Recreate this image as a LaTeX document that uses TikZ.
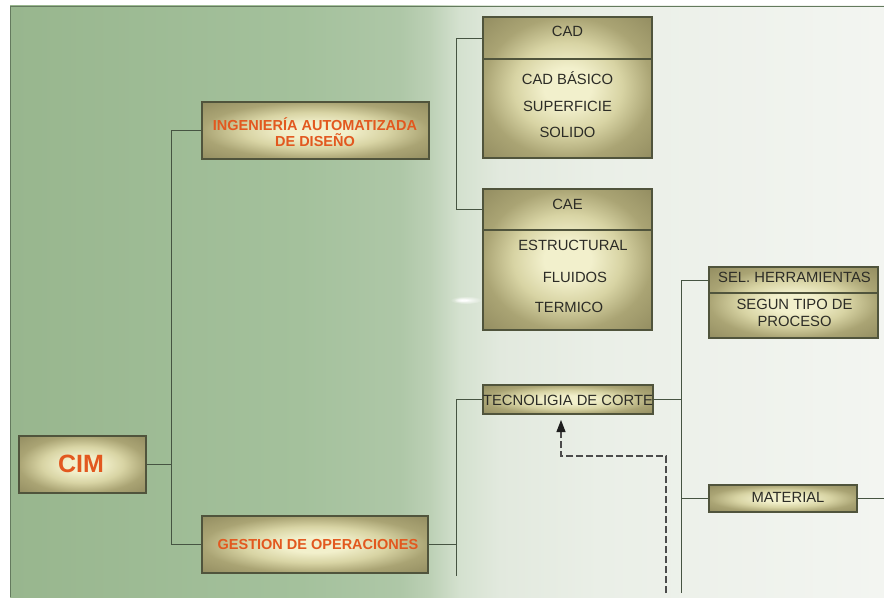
\documentclass[tikz,border=0pt]{standalone}
\usepackage{fontspec}
\setmainfont{Liberation Sans}
\usetikzlibrary{arrows.meta,fadings}

% palette
\definecolor{bgA}{RGB}{152,182,142}
\definecolor{bgB}{RGB}{164,193,156}
\definecolor{bgC}{RGB}{174,199,167}
\definecolor{bgD}{RGB}{188,208,181}
\definecolor{bgE}{RGB}{212,225,207}
\definecolor{bgF}{RGB}{226,233,222}
\definecolor{bgH}{RGB}{234,239,231}
\definecolor{bgG}{RGB}{243,245,241}
\definecolor{goldC}{RGB}{242,240,204}
\definecolor{goldM}{RGB}{216,212,164}
\definecolor{goldE}{RGB}{170,164,116}
\definecolor{goldK}{RGB}{146,140,96}
\definecolor{boxline}{RGB}{80,84,60}
\definecolor{wire}{RGB}{70,84,66}
\definecolor{frameline}{RGB}{100,122,94}
\definecolor{orng}{RGB}{226,88,31}
\definecolor{txtgray}{RGB}{44,44,38}
\definecolor{dashgray}{RGB}{75,75,75}
\definecolor{tipblack}{RGB}{30,30,30}

% background wash, left green to pale right
\pgfdeclarehorizontalshading{bgshade}{100bp}{%
  color(0bp)=(bgA); color(25bp)=(bgA); color(41.6bp)=(bgB);
  color(47.3bp)=(bgC); color(49bp)=(bgD); color(50.7bp)=(bgE);
  color(53bp)=(bgF); color(58.7bp)=(bgH); color(75bp)=(bgG); color(100bp)=(bgG)}

% golden box fill, bright in the middle
\pgfdeclareradialshading{goldsh}{\pgfpoint{0bp}{0bp}}{%
  color(0bp)=(goldC); color(7bp)=(goldC); color(16bp)=(goldM);
  color(25bp)=(goldE); color(36bp)=(goldK); color(50bp)=(goldK)}

\tikzfading[name=glowfade, inner color=transparent!0, outer color=transparent!100]

\begin{document}
\begin{tikzpicture}[x=1pt,y=-1pt,
  goldbox/.style={rectangle, draw=boxline, line width=1.1pt, shading=goldsh, inner sep=0pt},
  lbl/.style={font=\fontsize{14.8}{17}\selectfont, text=txtgray, inner sep=0pt, anchor=base},
  olbl/.style={font=\bfseries\fontsize{14.5}{16}\selectfont, text=orng, inner sep=0pt, anchor=base},
  wireline/.style={draw=wire, line width=0.9pt},
  divider/.style={draw=boxline, line width=1.1pt},
  dashlink/.style={draw=dashgray, line width=1.1pt, dash pattern=on 7pt off 3pt,
    -{Triangle[length=12pt,width=9pt,color=tipblack]}}]

\useasboundingbox (0,0) rectangle (884,599);
\clip (0,0) rectangle (884,599);
\fill[white] (0,0) rectangle (884,599);

% framed background
\shade[shading=bgshade] (10,6) rectangle (884,597);
\fill[white, path fading=glowfade] (466,300) ellipse [x radius=16, y radius=4];
\fill[white, path fading=glowfade] (462,300) ellipse [x radius=8, y radius=2.5];
\draw[frameline, line width=0.9pt] (884,6) -- (10,6) -- (10,597);

% boxes
\node[goldbox, minimum width=127pt, minimum height=57pt] (cim) at (82.5,464.5) {};
\node[goldbox, minimum width=227pt, minimum height=57pt] (ing) at (315.5,130.5) {};
\node[goldbox, minimum width=226pt, minimum height=57pt] (ges) at (315,544.5) {};
\node[goldbox, minimum width=169pt, minimum height=141pt] (cad) at (567.5,87.5) {};
\node[goldbox, minimum width=169pt, minimum height=141pt] (cae) at (567.5,259.5) {};
\node[goldbox, minimum width=169pt, minimum height=71pt] (sel) at (793.5,302.5) {};
\node[goldbox, minimum width=170pt, minimum height=29pt] (tec) at (568,399.5) {};
\node[goldbox, minimum width=148pt, minimum height=27pt] (mat) at (783,498.5) {};

% compartment dividers
\draw[divider] (cad.west |- 0,59) -- (cad.east |- 0,59);
\draw[divider] (cae.west |- 0,230) -- (cae.east |- 0,230);
\draw[divider] (sel.west |- 0,293) -- (sel.east |- 0,293);

% labels
\node[olbl, font=\bfseries\fontsize{25}{28}\selectfont] (cimt) at (81,472.6) {CIM};
\node[olbl] (inga) at (315,131) {INGENIERÍA AUTOMATIZADA};
\node[olbl] (ingb) at (315,147) {DE DISEÑO};
\node[olbl] (gest) at (318,549) {GESTION DE OPERACIONES};

\node[lbl] (cadh) at (567.5,37) {CAD};
\node[lbl] (cad1) at (567.5,85) {CAD BÁSICO};
\node[lbl] (cad2) at (567.5,112) {SUPERFICIE};
\node[lbl] (cad3) at (567.5,138) {SOLIDO};

\node[lbl] (caeh) at (567.5,210) {CAE};
\node[lbl] (cae1) at (573,251) {ESTRUCTURAL};
\node[lbl] (cae2) at (575,282) {FLUIDOS};
\node[lbl] (cae3) at (569,312) {TERMICO};

\node[lbl] (selh) at (794.5,282) {SEL. HERRAMIENTAS};
\node[lbl] (sel1) at (794.5,309) {SEGUN TIPO DE};
\node[lbl] (sel2) at (794.5,326) {PROCESO};

\node[lbl] (tect) at (568,405) {TECNOLIGIA DE CORTE};
\node[lbl] (matt) at (788,502) {MATERIAL};

% junction points of the tree
\coordinate (j1) at (171,464.5);
\coordinate (j1t) at (171,130.5);
\coordinate (j1b) at (171,544.5);
\coordinate (j2) at (456,544.5);
\coordinate (j2t) at (456,399.5);
\coordinate (j2b) at (456,576);
\coordinate (b1) at (456,38);
\coordinate (b2) at (456,209);
\coordinate (j3t) at (681,280);
\coordinate (j3m) at (681,399.5);
\coordinate (j3c) at (681,498.5);
\coordinate (j3b) at (681,593);
\coordinate (rend) at (884,498.5);

% solid connectors
\draw[wireline] (cim.east) -- (j1);
\draw[wireline] (j1t) -- (j1b);
\draw[wireline] (j1t) -- (ing.west);
\draw[wireline] (j1b) -- (ges.west);
\draw[wireline] (ges.east) -- (j2);
\draw[wireline] (j2t) -- (j2b);
\draw[wireline] (j2t) -- (tec.west);
\draw[wireline] (cad.west |- b1) -- (b1) -- (b2) -- (cae.west |- b2);
\draw[wireline] (tec.east) -- (j3m);
\draw[wireline] (j3t) -- (j3b);
\draw[wireline] (j3t) -- (sel.west |- j3t);
\draw[wireline] (j3c) -- (mat.west);
\draw[wireline] (mat.east) -- (rend);

% dashed feedback link
\coordinate (d0) at (666,593);
\coordinate (d1) at (666,456);
\coordinate (d2) at (561,456);
\coordinate (d3) at (561,420);
\draw[dashlink] (d0) -- (d1) -- (d2) -- (d3);

\end{tikzpicture}
\end{document}
